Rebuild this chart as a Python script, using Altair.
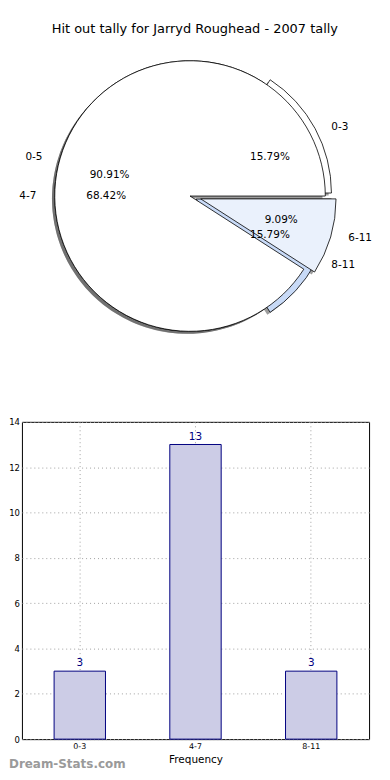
import math
import altair as alt
import pandas as pd

# ---------------- data ----------------
title_text = "Hit out tally for Jarryd Roughead - 2007 tally"

pieA_labels = ["0-3", "4-7", "8-11"]
pieA_values = [3, 13, 3]
pieA_explode = [0.05, 0.0, 0.05]

pieB_labels = ["0-5", "6-11"]
pieB_values = [10, 1]
pieB_explode = [0.0, 0.08]

bar_categories = ["0-3", "4-7", "8-11"]
bar_values = [3, 13, 3]

# ---------------- geometry helpers (from data) ----------------
def wedges(labels, values, explode, pie):
    total = float(sum(values))
    rows = []
    start = 0.0
    for lab, val, ex in zip(labels, values, explode):
        frac = val / total
        p1 = 360.0 * start
        p2 = 360.0 * (start + frac)
        mid = math.radians((p1 + p2) / 2.0)
        cx = ex * math.cos(mid)
        cy = ex * math.sin(mid)
        lx = cx + 1.1 * math.cos(mid)
        ly = cy + 1.1 * math.sin(mid)
        rows.append(
            dict(
                pie=pie,
                key=pie + ":" + lab,
                label=lab,
                pct="%.2f%%" % (100.0 * frac),
                t1=math.radians(450.0 - p2),
                t2=math.radians(450.0 - p1),
                cx=cx,
                cy=cy,
                sx=cx - 0.02,
                sy=cy - 0.02,
                lx=lx,
                ly=ly,
                px=cx + 0.6 * math.cos(mid),
                py=cy + 0.6 * math.sin(mid),
                side="left" if lx >= cx else "right",
            )
        )
        start += frac
    return rows


pie_df = pd.DataFrame(
    wedges(pieA_labels, pieA_values, pieA_explode, "A")
    + wedges(pieB_labels, pieB_values, pieB_explode, "B")
)

FONT = "DejaVu Sans"
LEFT = 13  # width reserved for the bar chart's y labels (shared panel origin)
PIE_W, PIE_H = 361, 290
XPX, YPX = 140.5, 127.5  # pixels per pie unit
CX_PX, CY_PX = 169.0, 147.0  # centre inside the panel
xdom = [-CX_PX / XPX, (PIE_W - CX_PX) / XPX]
ydom = [-(PIE_H - CY_PX) / YPX, CY_PX / YPX]
xs = alt.Scale(domain=xdom, nice=False, zero=False)
ys = alt.Scale(domain=ydom, nice=False, zero=False)
RADIUS = 136

color_scale = alt.Scale(
    domain=["A:0-3", "A:4-7", "A:8-11", "B:0-5", "B:6-11"],
    range=["#ffffff", "#ffffff", "#c8daf7", "#ffffff", "#eaf1fc"],
)

base = alt.Chart(pie_df)

shadow = base.mark_arc(radius=RADIUS, color="#4d4d4d", opacity=0.55).encode(
    x=alt.X("sx:Q", scale=xs, axis=None),
    y=alt.Y("sy:Q", scale=ys, axis=None),
    theta=alt.Theta("t1:Q", scale=None),
    theta2="t2:Q",
)

def wedge_layer(p):
    return base.transform_filter(alt.datum.pie == p).mark_arc(
        radius=RADIUS, stroke="black", strokeWidth=0.8
    ).encode(
        x=alt.X("cx:Q", scale=xs, axis=None),
        y=alt.Y("cy:Q", scale=ys, axis=None),
        theta=alt.Theta("t1:Q", scale=None),
        theta2="t2:Q",
        color=alt.Color("key:N", scale=color_scale, legend=None),
    )

def label_layer(side):
    return base.transform_filter(alt.datum.side == side).mark_text(
        align=side, baseline="middle", fontSize=10.5, font=FONT, color="black"
    ).encode(
        x=alt.X("lx:Q", scale=xs, axis=None),
        y=alt.Y("ly:Q", scale=ys, axis=None),
        text="label:N",
    )

pct_layer = base.mark_text(
    align="center", baseline="middle", fontSize=10.5, font=FONT, color="black"
).encode(
    x=alt.X("px:Q", scale=xs, axis=None),
    y=alt.Y("py:Q", scale=ys, axis=None),
    text="pct:N",
)

pie = alt.layer(
    shadow,
    wedge_layer("A"),
    wedge_layer("B"),
    label_layer("left"),
    label_layer("right"),
    pct_layer,
).properties(width=PIE_W, height=PIE_H, view=alt.ViewBackground(stroke="transparent"))

# ---------------- bar chart ----------------
bar_df = pd.DataFrame({"cat": bar_categories, "val": bar_values})
BAR_W, BAR_H = 349, 319

xb = alt.X(
    "cat:N",
    sort=bar_categories,
    scale=alt.Scale(paddingInner=0.556, paddingOuter=0.278),
    axis=alt.Axis(
        title="Frequency",
        titleFontSize=10.5,
        titleFontWeight="normal",
        titleFont=FONT,
        titlePadding=4,
        labelAngle=0,
        labelFontSize=8,
        labelFont=FONT,
        labelColor="black",
        labelPadding=3,
        ticks=False,
        domain=False,
        grid=True,
        gridDash=[1, 3],
        gridColor="#a0a0a0",
        bandPosition=0.5,
    ),
)
yb = alt.Y(
    "val:Q",
    scale=alt.Scale(domain=[0, 14], nice=False),
    axis=alt.Axis(
        title=None,
        values=[0, 2, 4, 6, 8, 10, 12, 14],
        labelFontSize=8.5,
        labelFont=FONT,
        labelColor="black",
        labelPadding=2.5,
        ticks=False,
        domain=False,
        grid=True,
        gridDash=[1, 3],
        gridColor="#a0a0a0",
        minExtent=LEFT,
        maxExtent=LEFT,
    ),
)

bars = alt.Chart(bar_df).mark_bar(
    fill="#ccccE6", stroke="#000080", strokeWidth=1
).encode(x=xb, y=yb)

bar_text = alt.Chart(bar_df).mark_text(
    baseline="bottom", dy=-3, fontSize=10.5, font=FONT, color="#000080"
).encode(x=alt.X("cat:N", sort=bar_categories), y="val:Q", text="val:Q")

watermark = alt.Chart(bar_df).mark_text(
    text="Dream-Stats.com", align="left", baseline="bottom",
    fontSize=12, fontWeight="bold", font=FONT, color="#9a9a9a",
).encode(x=alt.value(-LEFT), y=alt.value(BAR_H + 32))

bar_chart = alt.layer(bars, bar_text, watermark.transform_filter(alt.datum.cat == "0-3")).properties(
    width=BAR_W, height=BAR_H, view=alt.ViewBackground(stroke="black", strokeWidth=1)
)

chart = alt.vconcat(pie, bar_chart, spacing=78).properties(
    title=alt.TitleParams(
        text=title_text, fontSize=13, font=FONT, fontWeight="normal",
        anchor="middle", offset=13, color="black",
    ),
    padding={"left": 0, "top": 13, "right": 0, "bottom": 0},
).configure(font=FONT)

chart.save("out.html", embed_options={"renderer": "svg", "actions": False})
